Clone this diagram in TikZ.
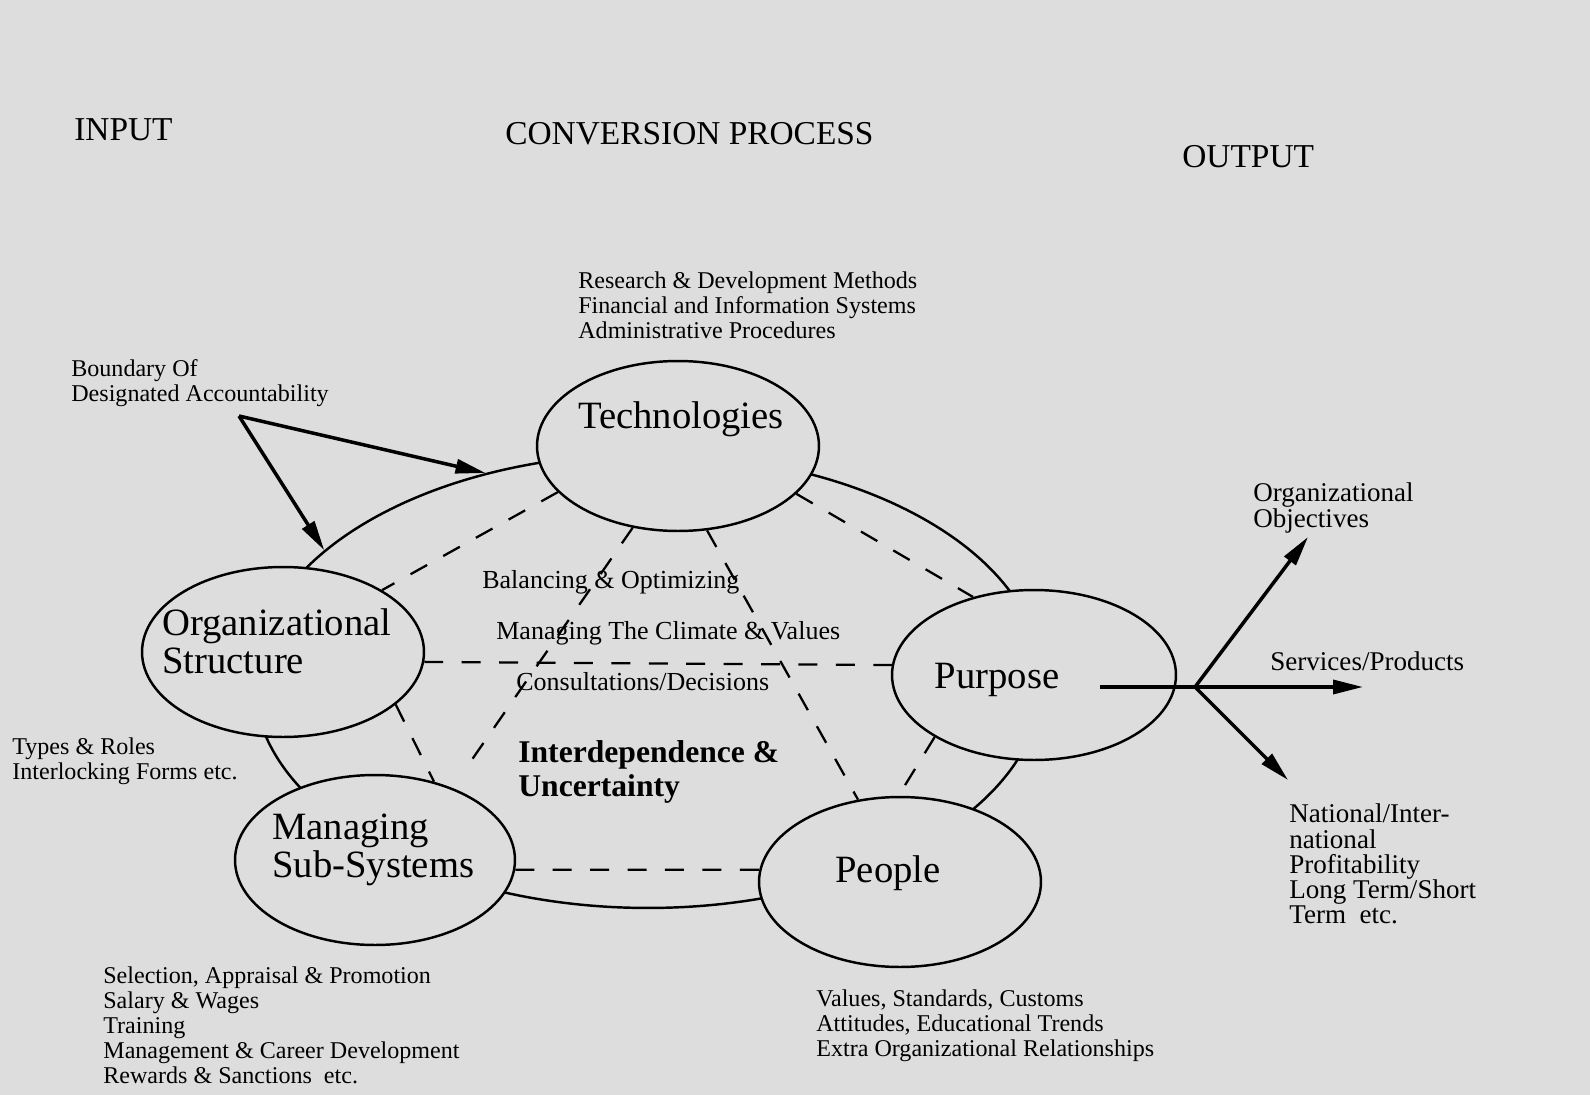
\documentclass[tikz,border=0pt]{standalone}
\usepackage{fontspec}
\setmainfont{Liberation Serif}
\usetikzlibrary{shapes.geometric,arrows.meta}
\definecolor{paper}{RGB}{221,221,221}
\begin{document}
\begin{tikzpicture}[x=0.02cm,y=-0.02cm,
  part/.style={ellipse,draw,fill=paper,line width=1.4pt,inner sep=0pt,minimum width=5.64cm,minimum height=3.4cm},
  link/.style={line width=1.3pt,dash pattern=on 10.8pt off 10.5pt},
  arr/.style={line width=2pt,-{Triangle[length=0.6cm,width=0.28cm]}},
  big/.style={inner sep=0pt,font=\fontsize{22}{21.6}\selectfont},
  small/.style={inner sep=0pt,align=left,anchor=west,font=\fontsize{13.7}{14.2}\selectfont},
  wide/.style={small,font=\fontsize{15.4}{14.3}\selectfont},
  mid/.style={inner sep=0pt,anchor=west,font=\fontsize{14.8}{16}\selectfont},
  head/.style={inner sep=0pt,anchor=west,font=\fontsize{19}{20}\selectfont}]
\fill[paper] (0,0) rectangle (1590,1095);
\useasboundingbox (0,0) rectangle (1590,1095);

\node[ellipse,draw,line width=1.4pt,inner sep=0pt,minimum width=15.76cm,minimum height=9.08cm] (boundary) at (648,681) {};

\node[part] (tech) at (678,446) {};
\node[part] (org) at (283,652) {};
\node[part,minimum width=5.68cm] (purpose) at (1034,675) {};
\node[part,minimum width=5.6cm] (mss) at (375,860) {};
\node[part] (people) at (900,882) {};

\draw[link] (tech.201.5) -- (org.32);
\draw[link] (tech.-22) -- (purpose.128);
\draw[link] (org.-4.4) -- (purpose.176.4);
\draw[link] (tech.-71) -- (people.117.6);
\draw[link,shorten >=0.64cm] (tech.241) -- (mss.43);
\draw[link] (org.-25.2) -- (mss.53.6);
\draw[link,shorten >=0.18cm] (purpose.212.6) -- (people.91);
\draw[link] (mss.-4) -- (people.175);

\coordinate (bfork) at (239,416);
\draw[arr] (bfork) -- (boundary.128.8);
\draw[arr] (bfork) -- (boundary.158);

\coordinate (ostart) at (1100,687);
\coordinate (ofork) at (1195,687);
\coordinate (otop) at (1308,537);
\coordinate (oright) at (1363,687);
\coordinate (obottom) at (1288,780);
\draw[arr] (ostart) -- (oright);
\draw[arr] (ofork) -- (otop);
\draw[arr] (ofork) -- (obottom);

\node[head] (input) at (74,130) {INPUT};
\node[head] (conv) at (505,134) {CONVERSION PROCESS};
\node[head] (output) at (1182,157) {OUTPUT};

\node[big] (techname) at (681,419) {Technologies};
\node[big,anchor=west,align=left] (orgname) at (162,641) {Organizational\\Structure};
\node[big] (purposename) at (997,680) {Purpose};
\node[big,anchor=west,align=left] (mssname) at (272,850) {Managing\\Sub-Systems};
\node[big] (peoplename) at (888,873) {People};

\node[small] (techlist) at (578,305) {Research \& Development Methods\\Financial and Information Systems\\Administrative Procedures};
\node[small] (bdalabel) at (71,383) {Boundary Of\\Designated Accountability};
\node[wide] (objlabel) at (1253,508) {Organizational\\Objectives};
\node[wide] (srvlabel) at (1270,661) {Services/Products};
\node[wide] (natlabel) at (1289,864) {National/Inter-\\national\\Profitability\\Long Term/Short\\Term\ \ etc.};
\node[small] (orglist) at (12,761) {Types \& Roles\\Interlocking Forms etc.};
\node[small] (msslist) at (103,1025) {Selection, Appraisal \& Promotion\\Salary \& Wages\\Training\\Management \& Career Development\\Rewards \& Sanctions\ \ etc.};
\node[small] (peoplelist) at (816,1026) {Values, Standards, Customs\\Attitudes, Educational Trends\\Extra Organizational Relationships};

\node[mid] (balance) at (482,582) {Balancing \& Optimizing};
\node[mid] (climate) at (496,633) {Managing The Climate \& Values};
\node[mid] (consult) at (516,682) {Consultations/Decisions};
\node[inner sep=0pt,anchor=west,align=left,font=\bfseries\fontsize{18}{19.3}\selectfont] (interdep) at (518,772) {Interdependence \&\\Uncertainty};
\end{tikzpicture}
\end{document}
